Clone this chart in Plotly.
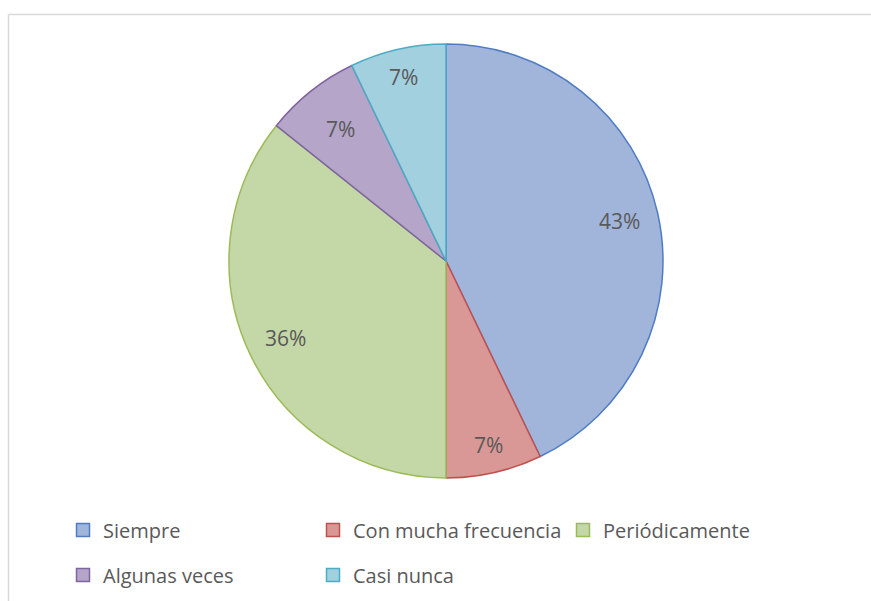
import math
import plotly.graph_objects as go

# Survey answers and response counts
categories = ["Siempre", "Con mucha frecuencia", "Periódicamente", "Algunas veces", "Casi nunca"]
counts = [6, 1, 5, 1, 1]

fill_colors = ["#a1b4da", "#d99896", "#c4d7a6", "#b5a5c8", "#a2d0df"]
line_colors = ["#4f7cc4", "#c0504d", "#9bbb59", "#8064a2", "#4bacc6"]
# radial placement of each percentage label (fraction of radius)
label_radius = [0.82, 0.87, 0.82, 0.78, 0.87]

W, H = 871, 601
cx, cy, R = 446, 261, 217
TEXT = "#595959"
FONT = "Open Sans"

fig = go.Figure()
fig.add_trace(
    go.Pie(
        labels=categories,
        values=counts,
        sort=False,
        direction="clockwise",
        rotation=0,
        marker=dict(colors=fill_colors, line=dict(color=line_colors, width=1.5)),
        textinfo="none",
        hoverinfo="label+percent",
        showlegend=False,
        domain=dict(x=[(cx - R) / W, (cx + R) / W], y=[1 - (cy + R) / H, 1 - (cy - R) / H]),
    )
)

# Legend keys: first three entries on the upper row, the rest on the lower row
for i, (name, fc, lc) in enumerate(zip(categories, fill_colors, line_colors)):
    fig.add_trace(
        go.Scatter(
            x=[None], y=[None], mode="markers", name=name,
            marker=dict(symbol="square", size=13, color=fc, line=dict(color=lc, width=1.5)),
            legend="legend" if i < 3 else "legend2",
            hoverinfo="skip",
        )
    )

# Percentage labels positioned along each slice bisector
total = sum(counts)
annotations = []
cum = 0
for name, v, rf in zip(categories, counts, label_radius):
    mid = (cum + v / 2) / total * 2 * math.pi
    cum += v
    px = cx + rf * R * math.sin(mid)
    py = cy - rf * R * math.cos(mid)
    annotations.append(
        dict(
            x=px / W, y=1 - py / H, xref="paper", yref="paper",
            text=f"{round(v / total * 100)}%", showarrow=False,
            font=dict(family=FONT, size=21, color=TEXT),
            xanchor="center", yanchor="middle",
        )
    )

legend_style = dict(
    orientation="h", xanchor="left", yanchor="middle",
    entrywidth=205, entrywidthmode="pixels",
    font=dict(family=FONT, size=20, color=TEXT),
    bgcolor="rgba(0,0,0,0)",
)

fig.update_layout(
    width=W, height=H,
    margin=dict(l=0, r=0, t=0, b=0),
    paper_bgcolor="white",
    plot_bgcolor="white",
    annotations=annotations,
    showlegend=True,
    xaxis=dict(visible=False, domain=[0, 0.001]),
    yaxis=dict(visible=False, domain=[0, 0.001]),
    legend=dict(x=63 / W, y=1 - 530 / H, **legend_style),
    legend2=dict(x=63 / W, y=1 - 575 / H, **legend_style),
    shapes=[
        dict(type="line", xref="paper", yref="paper", x0=8.5 / W, x1=1.01, y0=1 - 14.5 / H, y1=1 - 14.5 / H,
             line=dict(color="#d9d9d9", width=1.5)),
        dict(type="line", xref="paper", yref="paper", x0=8.5 / W, x1=8.5 / W, y0=1 - 14.5 / H, y1=-0.01,
             line=dict(color="#d9d9d9", width=1.5)),
    ],
)

fig.write_html("out.html")
